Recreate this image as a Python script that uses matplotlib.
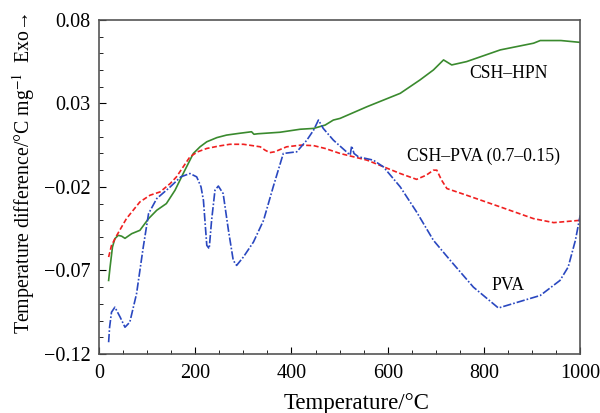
import matplotlib
matplotlib.use('Agg')
import matplotlib.pyplot as plt
from matplotlib.ticker import MultipleLocator

plt.rcParams['font.family'] = ['Liberation Serif', 'DejaVu Serif']
plt.rcParams['mathtext.fontset'] = 'stix'

# CSH-HPN (green, solid)
hpn_x = [20, 23, 28, 33, 40, 47, 54, 68, 85, 103, 120, 140, 158, 175, 196, 210, 224,
         245, 265, 290, 317, 322, 330, 376, 418, 446, 470, 487, 501, 557, 626, 667,
         695, 716, 733, 764, 834, 903, 917, 960, 1000]
hpn_y = [-0.076, -0.068, -0.056, -0.051, -0.049, -0.0495, -0.0508, -0.048, -0.046,
         -0.039, -0.034, -0.030, -0.022, -0.012, 0.000, 0.004, 0.007, 0.0095, 0.011,
         0.012, 0.013, 0.0115, 0.0118, 0.0127, 0.0145, 0.015, 0.017, 0.020, 0.021,
         0.028, 0.036, 0.044, 0.050, 0.056, 0.053, 0.055, 0.062, 0.066, 0.0676, 0.0676,
         0.0665]

# CSH-PVA (0.7-0.15) (red, dashed)
cpva_x = [20, 26, 37, 57, 85, 106, 127, 148, 161, 175, 189, 205, 224, 250, 272, 300,
          335, 345, 355, 365, 390, 420, 446, 470, 501, 557, 626, 660, 680, 695, 702,
          712, 723, 764, 834, 903, 945, 1000]
cpva_y = [-0.062, -0.055, -0.049, -0.039, -0.029, -0.025, -0.023, -0.018, -0.014,
          -0.008, -0.002, 0.001, 0.003, 0.0045, 0.0055, 0.0055, 0.004, 0.002, 0.0005,
          0.001, 0.004, 0.005, 0.0047, 0.003, 0.000, -0.004, -0.012, -0.0155, -0.013,
          -0.010, -0.010, -0.016, -0.021, -0.025, -0.032, -0.039, -0.0414, -0.040]

# PVA (blue, dash-dot)
pva_x = [20, 22, 26, 33, 44, 54, 64, 78, 92, 103, 120, 148, 170, 189, 203, 212, 217,
         224, 229, 234, 241, 248, 258, 269, 279, 286, 300, 321, 342, 362, 383, 411,
         432, 446, 456, 460, 466, 487, 522, 525, 530, 539, 570, 591, 626, 660, 695,
         730, 778, 830, 882, 917, 958, 975, 990, 1000]
pva_y = [-0.113, -0.104, -0.095, -0.092, -0.098, -0.104, -0.101, -0.084, -0.056,
         -0.036, -0.027, -0.020, -0.014, -0.012, -0.014, -0.020, -0.028, -0.055,
         -0.057, -0.040, -0.022, -0.0195, -0.024, -0.046, -0.064, -0.067, -0.062,
         -0.053, -0.040, -0.020, 0.000, 0.001, 0.008, 0.014, 0.020, 0.018, 0.015,
         0.008, -0.001, 0.0045, 0.000, -0.002, -0.004, -0.008, -0.020, -0.035, -0.052,
         -0.064, -0.080, -0.0925, -0.088, -0.085, -0.076, -0.068, -0.052, -0.037]

fig = plt.figure(figsize=(6, 4.13), dpi=100)
ax = fig.add_axes([0.165, 0.143, 0.802, 0.809])

ax.plot(hpn_x, hpn_y, color='#3a8a2e', lw=1.2, ls='-')
ax.plot(cpva_x, cpva_y, color='#f02020', lw=1.2, ls=(0, (3, 1.5)))
ax.plot(pva_x, pva_y, color='#2a48c0', lw=1.2, ls=(0, (5, 1.2, 1, 1.2)))

ax.text(852, 0.0477, 'CSH\u2013HPN', fontsize=12.7, ha='center', va='center')
ax.text(800, -0.002, 'CSH\u2013PVA (0.7\u20130.15)', fontsize=12.7, ha='center', va='center')
ax.text(850, -0.079, 'PVA', fontsize=12.7, ha='center', va='center')

ax.set_xlim(0, 1000)
ax.set_ylim(-0.12, 0.08)
ax.set_xticks([0, 200, 400, 600, 800, 1000])
ax.set_yticks([-0.12, -0.07, -0.02, 0.03, 0.08])
ax.set_yticklabels(['\u22120.12', '\u22120.07', '\u22120.02', '0.03', '0.08'])
ax.xaxis.set_minor_locator(MultipleLocator(50))
ax.yaxis.set_minor_locator(MultipleLocator(0.01))
ax.tick_params(which='both', direction='in', labelsize=14.5, top=False, right=False)
ax.tick_params(which='major', length=5)
ax.tick_params(which='minor', length=3)
ax.tick_params(axis='x', which='major', pad=7)
ax.tick_params(axis='y', which='major', pad=6)
for s in ax.spines.values():
    s.set_color('#555555')
    s.set_linewidth(1.2)

ax.set_xlabel('Temperature/\u00b0C', fontsize=16.5)
ax.xaxis.set_label_coords(0.536, -0.118)
ax.set_ylabel('Temperature difference/\u00b0C mg$^{-1}$  Exo\u2192', fontsize=14.3)
ax.yaxis.set_label_coords(-0.128, 0.54)

fig.savefig('out.png', dpi=100)
